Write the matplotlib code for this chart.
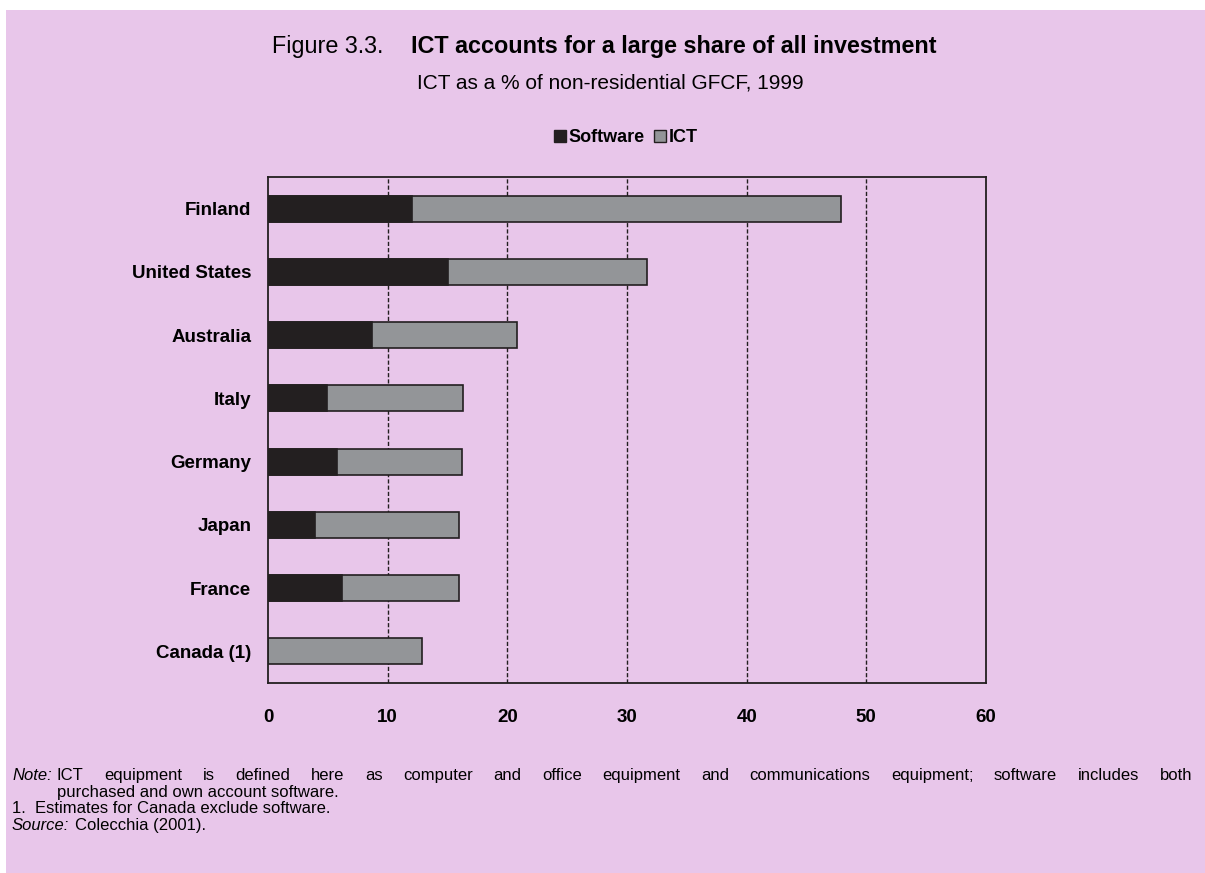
import matplotlib
matplotlib.use("Agg")
import matplotlib.pyplot as plt
from matplotlib.patches import Rectangle
from matplotlib.lines import Line2D

# ---- data ----
countries = ["Finland", "United States", "Australia", "Italy", "Germany",
             "Japan", "France", "Canada (1)"]
software = [12.0, 15.0, 8.7, 4.9, 5.8, 3.9, 6.2, 0.0]
ict_total = [47.9, 31.7, 20.8, 16.3, 16.25, 16.0, 16.0, 12.9]
xticks = [0, 10, 20, 30, 40, 50, 60]

BG = "#E8C6EA"
DARK = "#231F20"
GRAY = "#939598"
plt.rcParams['font.family'] = ['Liberation Sans', 'DejaVu Sans']

W, H = 1205, 873
fig = plt.figure(figsize=(W / 100, H / 100), dpi=100)
fig.patch.set_facecolor("white")
fig.patches.append(Rectangle((6 / W, 0), 1 - 6 / W, 1 - 10 / H,
                             transform=fig.transFigure, facecolor=BG,
                             edgecolor="none", zorder=-10))

ax = fig.add_axes([268 / W, (H - 683) / H, 718 / W, 506 / H])
ax.set_facecolor(BG)
ypos = list(range(len(countries)))
ax.barh(ypos, ict_total, height=0.41, color=GRAY, edgecolor=DARK,
        linewidth=1.2, zorder=3)
ax.barh(ypos, software, height=0.41, color=DARK, edgecolor=DARK,
        linewidth=1.2, zorder=4)
ax.set_xlim(0, 60)
ax.set_ylim(len(countries) - 0.5, -0.5)
ax.set_xticks(xticks)
ax.set_xticklabels([str(t) for t in xticks], fontsize=13.5, fontweight="bold")
ax.set_yticks(ypos)
ax.set_yticklabels(countries, fontsize=13.5, fontweight="bold")
ax.tick_params(axis="x", length=0, pad=19, colors="black")
ax.tick_params(axis="y", length=0, pad=12, colors="black")
for t in xticks[1:-1]:
    ax.axvline(t, color=DARK, linestyle=(0, (3, 1.5)), linewidth=1.0, zorder=1)
for s in ax.spines.values():
    s.set_color(DARK)
    s.set_linewidth(1.3)

# ---- titles ----
fig.text(272 / W, 1 - 47 / H, "Figure 3.3.", fontsize=16.8, va="center",
         ha="left")
fig.text(411 / W, 1 - 47 / H, "ICT accounts for a large share of all investment",
         fontsize=16.8, fontweight="bold", va="center", ha="left")
fig.text(610 / W, 1 - 83 / H, "ICT as a % of non-residential GFCF, 1999",
         fontsize=15, va="center", ha="center")

# ---- legend ----
handles = [Line2D([], [], marker="s", linestyle="none", markersize=9,
                  markerfacecolor=DARK, markeredgecolor=DARK),
           Line2D([], [], marker="s", linestyle="none", markersize=9,
                  markerfacecolor=GRAY, markeredgecolor=DARK)]
fig.legend(handles, ["Software", "ICT"], loc="center",
           bbox_to_anchor=(626 / W, 1 - 138 / H), ncol=2, frameon=False,
           prop={"size": 13, "weight": "bold"}, handlelength=0.6,
           handletextpad=0.15, columnspacing=0.6, borderaxespad=0)

# ---- notes ----
fs = 12
fig.canvas.draw()
renderer = fig.canvas.get_renderer()


def width_of(s, **kw):
    t = fig.text(0, 0, s, fontsize=fs, **kw)
    w = t.get_window_extent(renderer).width
    t.remove()
    return w


def base(y):
    return 1 - (y + 5) / H


fig.text(12 / W, base(775), "Note:", fontsize=fs, style="italic", va="baseline")
line1 = ("ICT equipment is defined here as computer and office equipment and "
         "communications equipment; software includes both")
words = line1.split(" ")
x0, x1 = 57, 1192
widths = [width_of(w) for w in words]
gap = (x1 - x0 - sum(widths)) / (len(words) - 1)
x = x0
for w, wd in zip(words, widths):
    fig.text(x / W, base(775), w, fontsize=fs, va="baseline", ha="left")
    x += wd + gap
fig.text(57 / W, base(792), "purchased and own account software.",
         fontsize=fs, va="baseline")
fig.text(12 / W, base(808), "1.  Estimates for Canada exclude software.",
         fontsize=fs, va="baseline")
fig.text(12 / W, base(825), "Source:", fontsize=fs, style="italic",
         va="baseline")
sx = max(57, 12 + width_of("Source:", style="italic") + 6)
fig.text(sx / W, base(825), "Colecchia (2001).", fontsize=fs, va="baseline")

fig.savefig("out.png", dpi=100, facecolor=fig.get_facecolor())
